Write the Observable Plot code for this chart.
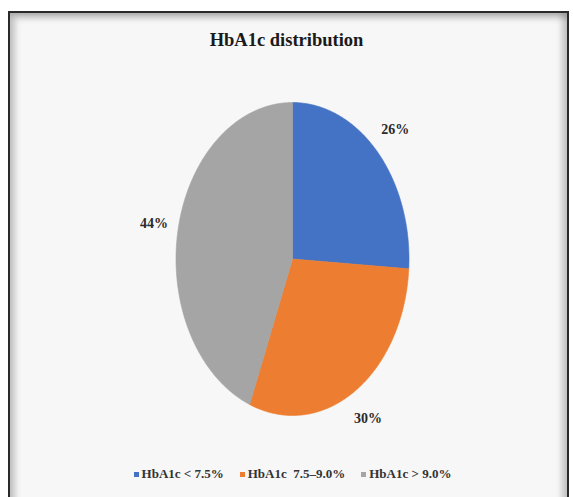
<!DOCTYPE html>
<html><head><meta charset="utf-8">
<script src="https://cdn.jsdelivr.net/npm/d3@7"></script>
<script src="https://cdn.jsdelivr.net/npm/@observablehq/plot@0.6"></script>
<style>
body{margin:0;background:#fff;width:573px;height:497px;overflow:hidden;position:relative;font-family:"Liberation Serif","Times New Roman",serif;}
#frame{position:absolute;left:8px;top:11px;width:557px;height:492px;border:2px solid #2a2a2a;background:#f7f7f7;box-shadow:inset 5px 5px 6px rgba(0,0,0,0.22), inset -5px 0 6px rgba(0,0,0,0.22);}
#title{position:absolute;left:0;width:573px;top:30px;text-align:center;font-weight:bold;font-size:18.5px;color:#1a1a1a;}
#chart{position:absolute;left:0;top:70px;}
#legend{position:absolute;left:6px;width:573px;top:466px;text-align:center;font-weight:bold;font-size:13px;color:#333;white-space:pre;}
#legend span.sw{display:inline-block;width:5px;height:5px;margin-right:3px;vertical-align:middle;position:relative;top:-1px;}
#legend span.item{margin:0 8px;}
</style>
</head><body>
<div id="frame"></div>
<div id="title">HbA1c distribution</div>
<div id="chart"></div>
<div id="legend"></div>
<script>
const categories = ["HbA1c < 7.5%", "HbA1c  7.5–9.0%", "HbA1c > 9.0%"];
const values = [26, 30, 44];
const labels = ["26%", "30%", "44%"];
const colors = ["#4472C4", "#ED7D31", "#A5A5A5"];

const arcs = d3.pie().sort(null).value(d => d.value)(
  categories.map((c, i) => ({cat: c, value: values[i], label: labels[i]}))
);

// slice outlines (angle measured clockwise from 12 o'clock)
const pts = [];
for (const a of arcs) {
  pts.push({cat: a.data.cat, x: 0, y: 0});
  const n = Math.max(2, Math.ceil((a.endAngle - a.startAngle) / 0.01));
  for (let k = 0; k <= n; k++) {
    const t = a.startAngle + (a.endAngle - a.startAngle) * k / n;
    pts.push({cat: a.data.cat, x: Math.sin(t), y: Math.cos(t)});
  }
  pts.push({cat: a.data.cat, x: 0, y: 0});
}
const lab = arcs.map(a => {
  const m = (a.startAngle + a.endAngle) / 2;
  return {label: a.data.label, x: 1.21 * Math.sin(m), y: 1.21 * Math.cos(m)};
});

const plot = Plot.plot({
  width: 573,
  height: 375,
  margin: 0,
  style: {background: "transparent", overflow: "visible"},
  x: {domain: [-1, 1], range: [175.5, 408.5], axis: null},
  y: {domain: [-1, 1], range: [345, 32], axis: null},
  color: {domain: categories, range: colors},
  marks: [
    Plot.line(pts, {x: "x", y: "y", z: "cat", fill: "cat", stroke: "cat", strokeWidth: 0.6,
      style: "filter: drop-shadow(0px 2px 5px rgba(0,0,0,0.35))"}),
    Plot.text(lab, {x: "x", y: "y", text: "label", fontSize: 14, fontWeight: "bold",
      fontFamily: "Liberation Serif, Times New Roman, serif", fill: "#2a2a2a"})
  ]
});
document.getElementById("chart").appendChild(plot);

const leg = document.getElementById("legend");
categories.forEach((c, i) => {
  const it = document.createElement("span");
  it.className = "item";
  const sw = document.createElement("span");
  sw.className = "sw";
  sw.style.background = colors[i];
  it.appendChild(sw);
  it.appendChild(document.createTextNode(c));
  leg.appendChild(it);
});
</script>
</body></html>
